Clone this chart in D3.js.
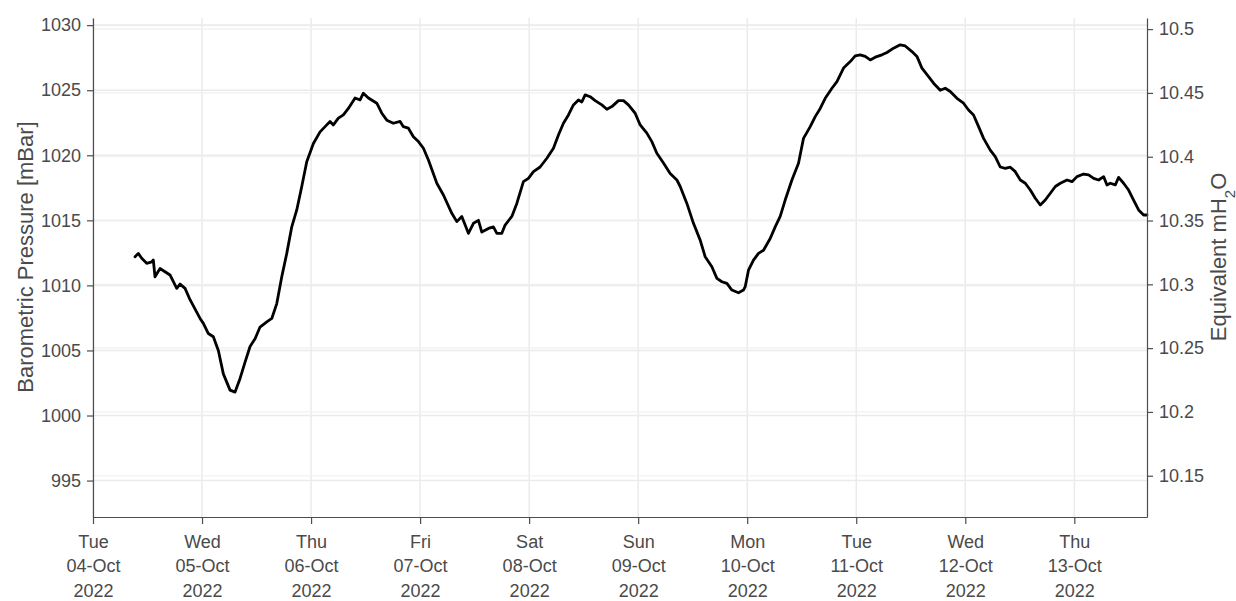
<!DOCTYPE html>
<html>
<head>
<meta charset="utf-8">
<script src="https://cdn.jsdelivr.net/npm/d3@7"></script>
<style>
  html, body { margin: 0; padding: 0; background: #ffffff; }
  svg { display: block; }
  text { font-family: "Liberation Sans", Arial, Helvetica, sans-serif; }
</style>
</head>
<body>
<svg id="chart" width="1236" height="601"></svg>
<script>
// ---------------- DATA ----------------
const startDate = "2022-10-04T00:00:00Z";
// hours since start (04-Oct 00:00)
const hoursSinceStart = [
  9.25, 9.97, 10.72, 11.82, 12.92, 13.28, 13.65, 14.75, 15.85, 16.95,
  18.43, 19.16, 20.26, 21.36, 23.56, 24.29, 25.39, 26.49, 27.59, 28.69,
  30.16, 31.27, 32.37, 33.47, 34.57, 35.67, 36.77, 38.25, 39.35, 40.45,
  41.55, 42.65, 43.75, 44.85, 45.95, 47.05, 48.51, 49.98, 51.08, 52.18,
  52.91, 54.01, 55.11, 56.21, 57.69, 58.79, 59.51, 60.62, 62.47, 63.57,
  64.67, 66.12, 67.60, 68.32, 69.42, 70.52, 71.63, 72.73, 73.83, 75.68,
  77.13, 78.98, 80.08, 81.18, 82.63, 83.74, 84.84, 85.58, 87.04, 88.14,
  88.89, 89.99, 90.71, 92.19, 93.29, 94.74, 95.84, 96.95, 98.42, 99.90,
  101.35, 102.45, 103.55, 104.65, 105.75, 106.85, 107.60, 108.33, 109.43, 110.53,
  112.00, 113.11, 114.21, 115.66, 116.76, 117.86, 119.34, 120.44, 121.91, 123.01,
  124.11, 125.57, 127.04, 128.52, 129.25, 130.72, 132.17, 133.65, 134.75, 136.22,
  137.33, 138.43, 139.53, 140.63, 142.08, 143.18, 143.56, 144.28, 145.38, 146.48,
  147.59, 149.06, 150.16, 151.26, 152.36, 153.84, 155.29, 156.39, 157.87, 158.97,
  160.07, 161.17, 162.65, 163.75, 165.20, 166.68, 167.78, 168.88, 169.98, 171.08,
  172.18, 173.66, 174.76, 176.21, 177.69, 178.79, 180.26, 181.36, 182.46, 183.92,
  185.02, 186.49, 187.59, 188.69, 190.17, 191.62, 192.72, 193.82, 194.93, 196.03,
  197.50, 198.60, 199.70, 200.80, 201.91, 203.01, 204.11, 205.21, 206.31, 207.41,
  208.51, 209.61, 210.72, 211.82, 212.92, 214.39, 215.49, 216.59, 218.05, 219.15,
  220.25, 221.35, 222.45, 223.19, 223.92, 225.02, 225.75, 226.85, 227.95, 229.05,
  230.15, 231.25, 232.00
];
// barometric pressure, mBar
const pressure = [
  1012.2, 1012.46, 1012.08, 1011.7, 1011.8, 1011.95, 1010.66, 1011.3, 1011.05, 1010.8,
  1009.77, 1010.1, 1009.77, 1008.9, 1007.46, 1007.08, 1006.3, 1006.05, 1005.0, 1003.2,
  1001.95, 1001.8, 1002.85, 1004.1, 1005.3, 1005.9, 1006.8, 1007.2, 1007.46, 1008.6,
  1010.66, 1012.46, 1014.5, 1015.8, 1017.6, 1019.5, 1020.9, 1021.8, 1022.2, 1022.6,
  1022.33, 1022.85, 1023.1, 1023.6, 1024.4, 1024.25, 1024.77, 1024.4, 1024.0, 1023.23,
  1022.7, 1022.46, 1022.6, 1022.2, 1022.08, 1021.43, 1021.05, 1020.54, 1019.64, 1017.85,
  1016.95, 1015.54, 1014.9, 1015.3, 1014.0, 1014.77, 1015.0, 1014.1, 1014.38, 1014.5,
  1014.0, 1014.0, 1014.64, 1015.3, 1016.3, 1017.97, 1018.23, 1018.74, 1019.1, 1019.77,
  1020.54, 1021.56, 1022.46, 1023.1, 1023.87, 1024.25, 1024.1, 1024.64, 1024.5, 1024.2,
  1023.87, 1023.54, 1023.74, 1024.2, 1024.2, 1023.87, 1023.23, 1022.33, 1021.7, 1021.05,
  1020.15, 1019.4, 1018.6, 1018.1, 1017.6, 1016.3, 1014.77, 1013.48, 1012.2, 1011.43,
  1010.54, 1010.28, 1010.15, 1009.64, 1009.43, 1009.64, 1009.9, 1011.17, 1011.94, 1012.46,
  1012.7, 1013.6, 1014.5, 1015.3, 1016.56, 1018.1, 1019.38, 1021.3, 1022.2, 1022.97,
  1023.6, 1024.38, 1025.15, 1025.66, 1026.7, 1027.2, 1027.64, 1027.72, 1027.6, 1027.33,
  1027.54, 1027.72, 1027.9, 1028.23, 1028.49, 1028.4, 1027.97, 1027.6, 1026.7, 1026.05,
  1025.54, 1025.0, 1025.15, 1024.9, 1024.38, 1024.0, 1023.48, 1023.1, 1022.2, 1021.3,
  1020.4, 1019.9, 1019.1, 1019.0, 1019.08, 1018.74, 1018.1, 1017.85, 1017.33, 1016.7,
  1016.18, 1016.56, 1017.08, 1017.6, 1017.85, 1018.1, 1017.97, 1018.36, 1018.56, 1018.49,
  1018.23, 1018.1, 1018.36, 1017.72, 1017.85, 1017.72, 1018.3, 1017.85, 1017.33, 1016.56,
  1015.8, 1015.41, 1015.41
];
const leftTicks = [995, 1000, 1005, 1010, 1015, 1020, 1025, 1030];
const rightTicks = [10.15, 10.2, 10.25, 10.3, 10.35, 10.4, 10.45, 10.5];
const mBarToMH2O = 0.0101972;
const leftDomain = [992.2, 1030.55];
const leftTitle = "Barometric Pressure [mBar]";

// ---------------- CHART ----------------
const svg = d3.select("#chart");
const margin = { left: 93, right: 1236 - 1147, top: 18, bottom: 601 - 517 };
const W = 1236, H = 601;
const x0 = margin.left, x1 = W - margin.right, y0 = H - margin.bottom, y1 = margin.top;

const t0 = new Date(startDate).getTime();
const data = hoursSinceStart.map((h, i) => ({ t: new Date(t0 + h * 3600e3), v: pressure[i] }));

const x = d3.scaleUtc().domain([new Date(t0), data[data.length - 1].t]).range([x0, x1]);
const y = d3.scaleLinear().domain(leftDomain).range([y0, y1]);
const yR = d3.scaleLinear().domain(leftDomain.map(d => d * mBarToMH2O)).range([y0, y1]);

const dayTicks = d3.utcDay.range(new Date(t0), new Date(data[data.length - 1].t.getTime() + 1));

const grid = svg.append("g");
const gridColor = "#ebebeb";
grid.selectAll(".vg").data(dayTicks).join("line")
  .attr("x1", d => x(d)).attr("x2", d => x(d))
  .attr("y1", y1).attr("y2", y0)
  .attr("stroke", gridColor).attr("stroke-width", 1.5);
grid.selectAll(".hgl").data(leftTicks).join("line")
  .attr("x1", x0).attr("x2", x1)
  .attr("y1", d => y(d)).attr("y2", d => y(d))
  .attr("stroke", gridColor).attr("stroke-width", 1.6);
grid.selectAll(".hgr").data(rightTicks).join("line")
  .attr("x1", x0).attr("x2", x1)
  .attr("y1", d => yR(d)).attr("y2", d => yR(d))
  .attr("stroke", "#f0f0f0").attr("stroke-width", 1.2);

// line
svg.append("path")
  .datum(data)
  .attr("fill", "none")
  .attr("stroke", "#000000")
  .attr("stroke-width", 2.8)
  .attr("stroke-linejoin", "round")
  .attr("stroke-linecap", "round")
  .attr("d", d3.line().x(d => x(d.t)).y(d => y(d.v)));

const axisColor = "#4d4d4d";
const textColor = "#4a4a4a";
const fontSize = 18;

function styleAxis(g) {
  g.select(".domain").attr("stroke", axisColor).attr("stroke-width", 1.2);
  g.selectAll(".tick line").attr("stroke", axisColor).attr("stroke-width", 1.2);
  g.selectAll(".tick text").attr("fill", textColor).style("font-size", fontSize + "px")
    .style("font-family", '"Liberation Sans", Arial, sans-serif');
}

// left axis
const gl = svg.append("g").attr("transform", `translate(${x0},0)`)
  .call(d3.axisLeft(y).tickValues(leftTicks).tickSize(6).tickPadding(6).tickSizeOuter(0).tickFormat(d3.format("d")));
styleAxis(gl);

// right axis
const gr = svg.append("g").attr("transform", `translate(${x1},0)`)
  .call(d3.axisRight(yR).tickValues(rightTicks).tickSize(6).tickPadding(6).tickSizeOuter(0)
    .tickFormat(d => String(+d.toFixed(2))));
styleAxis(gr);

// bottom axis
const fDay = d3.utcFormat("%a"), fDate = d3.utcFormat("%d-%b"), fYear = d3.utcFormat("%Y");
const gb = svg.append("g").attr("transform", `translate(0,${y0})`)
  .call(d3.axisBottom(x).tickValues(dayTicks).tickSize(7).tickSizeOuter(0).tickFormat(""));
styleAxis(gb);
gb.selectAll(".tick").each(function(d) {
  const t = d3.select(this).append("text")
    .attr("fill", textColor).attr("text-anchor", "middle")
    .style("font-size", fontSize + "px");
  [fDay(d), fDate(d), fYear(d)].forEach((s, i) => {
    t.append("tspan").attr("x", 0).attr("y", 31 + i * 24.3).text(s);
  });
});

// titles
const titleY = 257;
svg.append("text")
  .attr("transform", `translate(33,${titleY}) rotate(-90)`)
  .attr("text-anchor", "middle")
  .attr("fill", textColor)
  .style("font-size", "22px")
  .text(leftTitle);

const rt = svg.append("text")
  .attr("transform", `translate(1226,${titleY}) rotate(-90)`)
  .attr("text-anchor", "middle")
  .attr("fill", textColor)
  .style("font-size", "22px");
rt.append("tspan").text("Equivalent mH");
rt.append("tspan").attr("baseline-shift", "sub").style("font-size", "15px").text("2");
rt.append("tspan").text("O");
</script>
</body>
</html>
